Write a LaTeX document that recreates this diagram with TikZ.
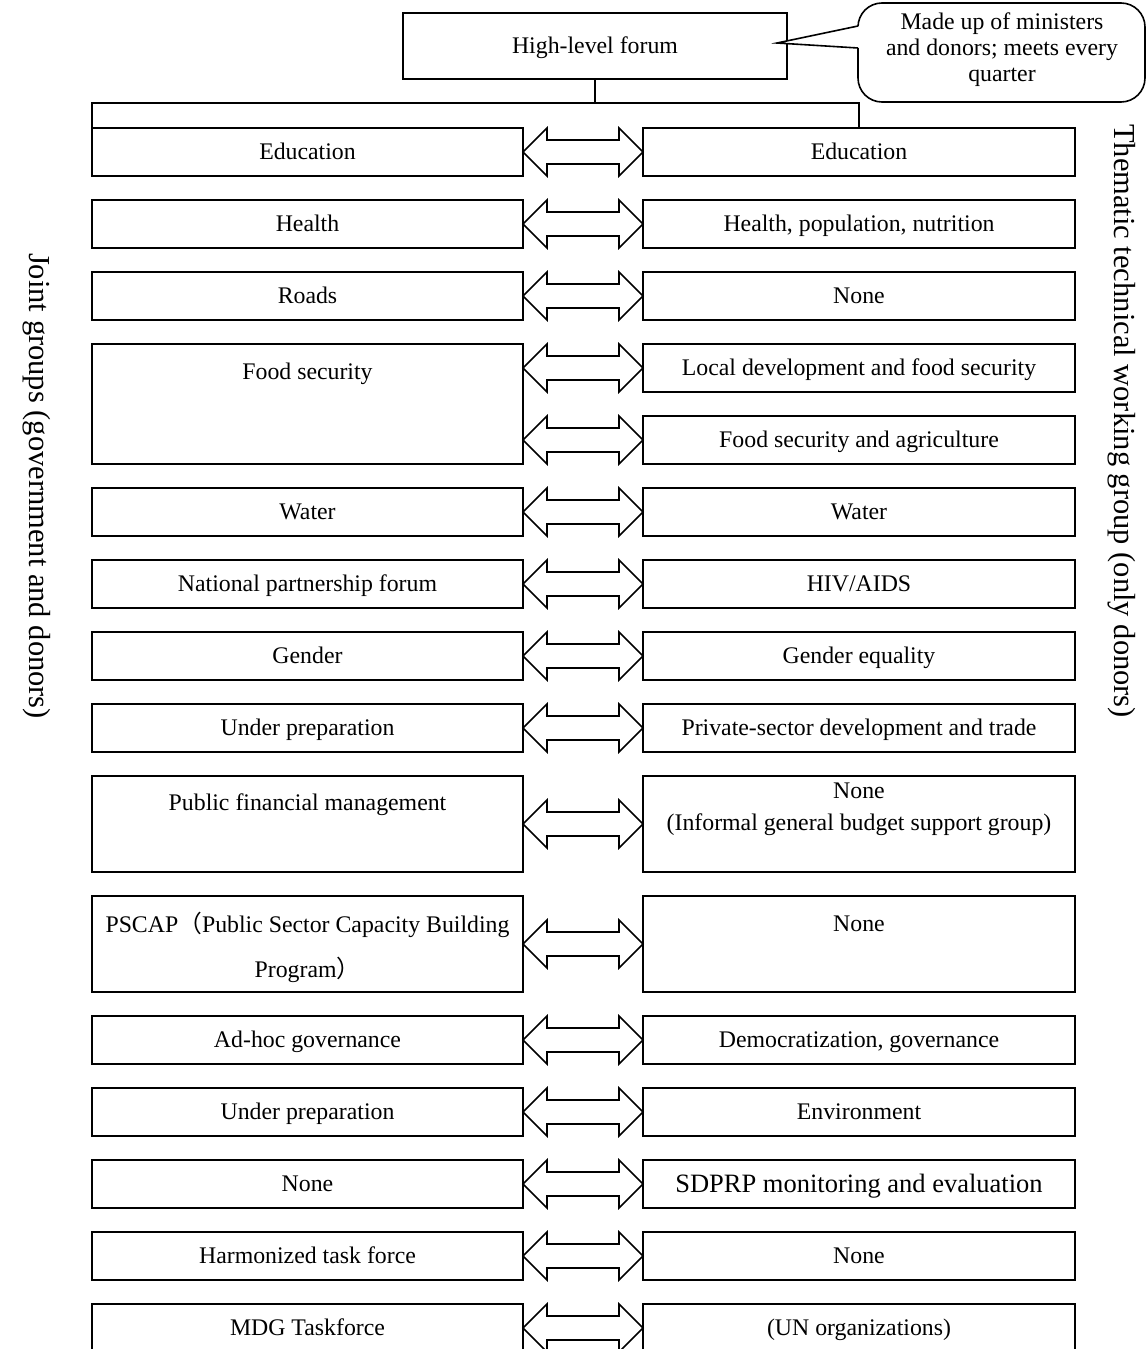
\documentclass[tikz,border=0pt]{standalone}
\usepackage{fontspec}
\setmainfont{Liberation Serif}
\newfontfamily\cjkfont{Noto Sans CJK SC}
\usetikzlibrary{calc}

\tikzset{
  frame/.style={draw, line width=1.6pt, rectangle, inner sep=0pt, outer sep=0pt,
    minimum height=48pt, font=\fontsize{23.8}{27}\selectfont,
    text height=15.7pt, text depth=0pt},
  lbox/.style={frame, minimum width=431pt},
  rbox/.style={frame, minimum width=432pt},
  txt/.style={inner sep=0pt, outer sep=0pt, font=\fontsize{23.8}{27}\selectfont,
    text height=15.7pt, text depth=0pt},
  side/.style={inner sep=0pt, outer sep=0pt, rotate=-90, font=\fontsize{30.5}{34}\selectfont},
  link/.style={line width=1.6pt},
  blockarrow/.style={draw, line width=1.6pt, line join=miter, fill=white},
  bubble/.style={draw, line width=1.6pt, rounded corners=24pt, inner sep=0pt, outer sep=0pt,
    align=center, font=\fontsize{23.8}{26}\selectfont}
}

% double-headed block arrow between two tips on the same level
\newcommand\twoway[2]{%
  \draw[blockarrow] (#1) -- ++(24,-24) -- ++(0,12) -- ($(#2)+(-24,-12)$) -- ++(0,-12)
    -- (#2) -- ++(-24,24) -- ++(0,-12) -- ($(#1)+(24,12)$) -- ++(0,12) -- cycle;}

\begin{document}
\begin{tikzpicture}[x=1pt, y=-1pt]
\useasboundingbox (0,0) rectangle (1147,1349);

% top forum and its note
\node[frame, minimum width=384pt, minimum height=66pt] (HL) at (595,46) {High-level forum};
\node[bubble, minimum width=287pt, minimum height=99pt] (note) at (1001.5,52.5) {};
\node[align=center, inner sep=0pt, font=\fontsize{23.8}{26}\selectfont] (notetext) at (1002,50)
  {Made up of ministers\\and donors; meets every\\quarter};
\coordinate (tip) at (777,43);
\fill[white] ($(note.north west)+(2,23)$) -- (tip) -- ($(note.north west)+(2,45)$) -- cycle;
\draw[link, line join=miter] ($(note.north west)+(0,23)$) -- (tip) -- ($(note.north west)+(0,45)$);

% side captions
\node[side] (jointlab) at (37,486) {Joint groups (government and donors)};
\node[side] (thematiclab) at (1122,421) {Thematic technical working group (only donors)};

% rows
\node[lbox] (L1) at (307.5,152) {Education};
\node[rbox] (R1) at (859,152) {Education};
\twoway{L1.east}{R1.west}

\node[lbox] (L2) at (307.5,224) {Health};
\node[rbox] (R2) at (859,224) {Health, population, nutrition};
\twoway{L2.east}{R2.west}

\node[lbox] (L3) at (307.5,296) {Roads};
\node[rbox] (R3) at (859,296) {None};
\twoway{L3.east}{R3.west}

\node[lbox, minimum height=120pt] (L4) at (307.5,404) {};
\node[txt] (L4t) at ($(L4.north)+(0,28)$) {Food security};
\node[rbox] (R4a) at (859,368) {Local development and food security};
\node[rbox] (R4b) at (859,440) {Food security and agriculture};
\coordinate (A4a) at (L4.east |- R4a.west);
\coordinate (A4b) at (L4.east |- R4b.west);
\twoway{A4a}{R4a.west}
\twoway{A4b}{R4b.west}

\node[lbox] (L5) at (307.5,512) {Water};
\node[rbox] (R5) at (859,512) {Water};
\twoway{L5.east}{R5.west}

\node[lbox] (L6) at (307.5,584) {National partnership forum};
\node[rbox] (R6) at (859,584) {HIV/AIDS};
\twoway{L6.east}{R6.west}

\node[lbox] (L7) at (307.5,656) {Gender};
\node[rbox] (R7) at (859,656) {Gender equality};
\twoway{L7.east}{R7.west}

\node[lbox] (L8) at (307.5,728) {Under preparation};
\node[rbox] (R8) at (859,728) {Private-sector development and trade};
\twoway{L8.east}{R8.west}

\node[lbox, minimum height=96pt] (L9) at (307.5,824) {};
\node[txt] (L9t) at ($(L9.north)+(0,27)$) {Public financial management};
\node[rbox, minimum height=96pt] (R9) at (859,824) {};
\node[txt] (R9t1) at ($(R9.north)+(0,15)$) {None};
\node[txt] (R9t2) at ($(R9.north)+(0,47)$) {(Informal general budget support group)};
\twoway{L9.east}{R9.west}

\node[lbox, minimum height=96pt] (L10) at (307.5,944) {};
\node[txt] (L10t1) at ($(L10.north)+(0,29)$) {PSCAP{\cjkfont （}Public Sector Capacity Building};
\node[txt] (L10t2) at ($(L10.north)+(0,74)$) {Program{\cjkfont ）}};
\node[rbox, minimum height=96pt] (R10) at (859,944) {};
\node[txt] (R10t) at ($(R10.north)+(0,28)$) {None};
\twoway{L10.east}{R10.west}

\node[lbox] (L11) at (307.5,1040) {Ad-hoc governance};
\node[rbox] (R11) at (859,1040) {Democratization, governance};
\twoway{L11.east}{R11.west}

\node[lbox] (L12) at (307.5,1112) {Under preparation};
\node[rbox] (R12) at (859,1112) {Environment};
\twoway{L12.east}{R12.west}

\node[lbox] (L13) at (307.5,1184) {None};
\node[rbox, font=\fontsize{26.5}{30}\selectfont, text height=17.5pt] (R13) at (859,1184) {SDPRP monitoring and evaluation};
\twoway{L13.east}{R13.west}

\node[lbox] (L14) at (307.5,1256) {Harmonized task force};
\node[rbox] (R14) at (859,1256) {None};
\twoway{L14.east}{R14.west}

\node[lbox] (L15) at (307.5,1328) {MDG Taskforce};
\node[rbox] (R15) at (859,1328) {(UN organizations)};
\twoway{L15.east}{R15.west}

% links from the forum down to the first row
\coordinate (bus) at ($(L1.north west)+(0,-25)$);
\draw[link] (HL.south) -- (HL.south |- bus);
\draw[link] (L1.north west) -- (bus) -| (R1.north);
\end{tikzpicture}
\end{document}
